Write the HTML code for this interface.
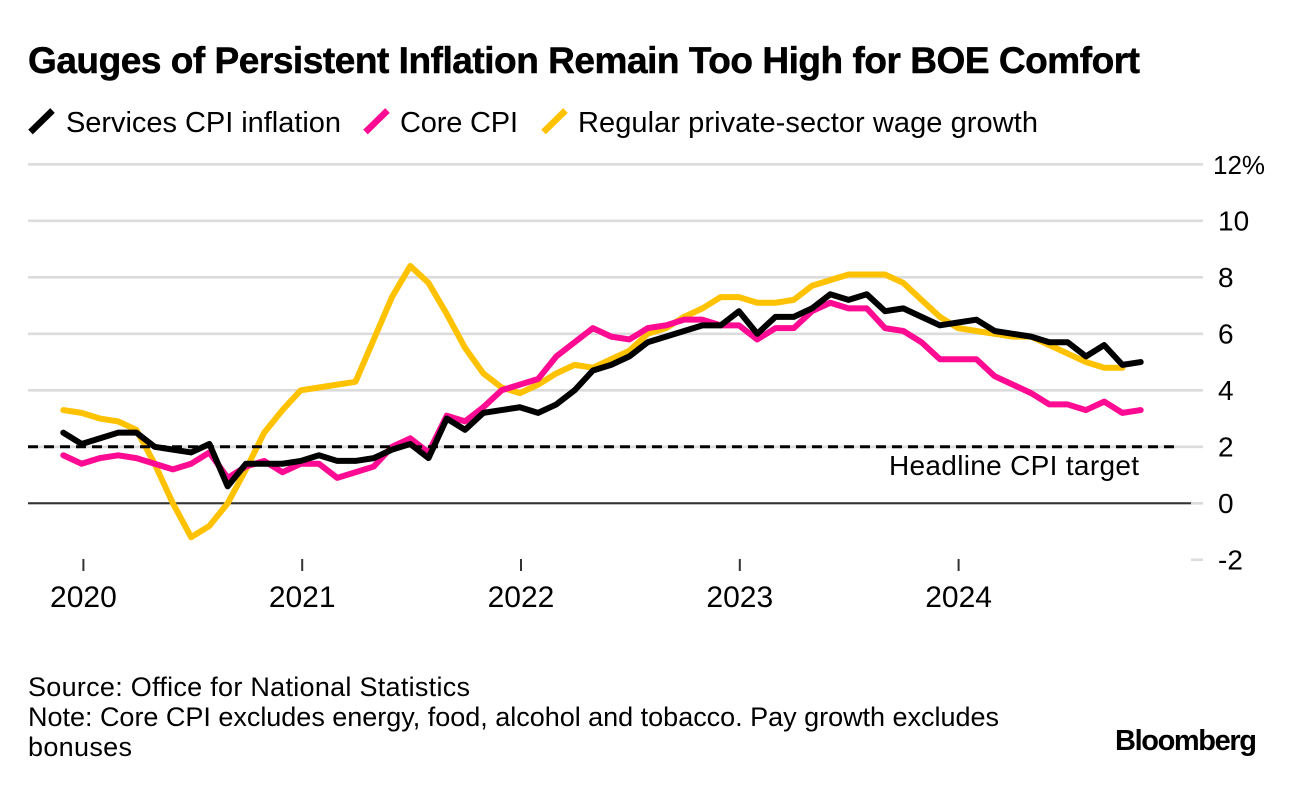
<!DOCTYPE html>
<html lang="en">
<head>
<meta charset="utf-8">
<title>Gauges of Persistent Inflation Remain Too High for BOE Comfort</title>
<style>
html,body{margin:0;padding:0;background:#fff;width:1296px;height:786px;overflow:hidden}
svg{display:block}
text{font-family:"Liberation Sans",sans-serif;fill:#000}
</style>
</head>
<body>
<svg id="chart" xmlns="http://www.w3.org/2000/svg" width="1296" height="786" viewBox="0 0 1296 786">
  <rect x="0" y="0" width="1296" height="786" fill="#fff"/>
  <text x="28" y="73" font-size="37" font-weight="700" stroke="#000" stroke-width="0.5" textLength="1112">Gauges of Persistent Inflation Remain Too High for BOE Comfort</text>

  <g>
    <g>
      <line x1="30.5" y1="132" x2="52.5" y2="110.5" stroke="#000" stroke-width="6.5"/>
      <text x="66" y="132" font-size="29" textLength="275">Services CPI inflation</text>
    </g>
    <g>
      <line x1="365.5" y1="132" x2="387.5" y2="110.5" stroke="#ff0a92" stroke-width="6.5"/>
      <text x="400" y="132" font-size="29" textLength="118">Core CPI</text>
    </g>
    <g>
      <line x1="543.5" y1="132" x2="565.5" y2="110.5" stroke="#ffc200" stroke-width="6.5"/>
      <text x="578" y="132" font-size="29" textLength="460">Regular private-sector wage growth</text>
    </g>
  </g>

  <g id="y-grid"></g>
  <g id="y-labels"></g>
  <g id="x-axis"></g>
  <g id="series"></g>

  <text x="889" y="475" font-size="28" textLength="250">Headline CPI target</text>

  <g>
    <text x="28" y="696" font-size="27" textLength="442">Source: Office for National Statistics</text>
    <text x="28" y="726" font-size="27" textLength="971">Note: Core CPI excludes energy, food, alcohol and tobacco. Pay growth excludes</text>
    <text x="28" y="756" font-size="27" textLength="104">bonuses</text>
  </g>
  <text x="1115" y="750" font-size="29" font-weight="700" textLength="142">Bloomberg</text>
</svg>
<script>
const months = ["Nov19","Dec19","Jan20","Feb20","Mar20","Apr20","May20","Jun20","Jul20","Aug20","Sep20","Oct20","Nov20","Dec20","Jan21","Feb21","Mar21","Apr21","May21","Jun21","Jul21","Aug21","Sep21","Oct21","Nov21","Dec21","Jan22","Feb22","Mar22","Apr22","May22","Jun22","Jul22","Aug22","Sep22","Oct22","Nov22","Dec22","Jan23","Feb23","Mar23","Apr23","May23","Jun23","Jul23","Aug23","Sep23","Oct23","Nov23","Dec23","Jan24","Feb24","Mar24","Apr24","May24","Jun24","Jul24","Aug24","Sep24","Oct24"];
const servicesCpi = [2.5,2.1,2.3,2.5,2.5,2.0,1.9,1.8,2.1,0.6,1.4,1.4,1.4,1.5,1.7,1.5,1.5,1.6,1.9,2.1,1.6,3.0,2.6,3.2,3.3,3.4,3.2,3.5,4.0,4.7,4.9,5.2,5.7,5.9,6.1,6.3,6.3,6.8,6.0,6.6,6.6,6.9,7.4,7.2,7.4,6.8,6.9,6.6,6.3,6.4,6.5,6.1,6.0,5.9,5.7,5.7,5.2,5.6,4.9,5.0];
const coreCpi = [1.7,1.4,1.6,1.7,1.6,1.4,1.2,1.4,1.8,0.9,1.3,1.5,1.1,1.4,1.4,0.9,1.1,1.3,2.0,2.3,1.8,3.1,2.9,3.4,4.0,4.2,4.4,5.2,5.7,6.2,5.9,5.8,6.2,6.3,6.5,6.5,6.3,6.3,5.8,6.2,6.2,6.8,7.1,6.9,6.9,6.2,6.1,5.7,5.1,5.1,5.1,4.5,4.2,3.9,3.5,3.5,3.3,3.6,3.2,3.3];
const wageGrowth = [3.3,3.2,3.0,2.9,2.6,1.4,0.0,-1.2,-0.8,0.0,1.2,2.5,3.3,4.0,4.1,4.2,4.3,5.8,7.3,8.4,7.8,6.7,5.5,4.6,4.1,3.9,4.2,4.6,4.9,4.8,5.1,5.4,6.0,6.2,6.6,6.9,7.3,7.3,7.1,7.1,7.2,7.7,7.9,8.1,8.1,8.1,7.8,7.2,6.6,6.2,6.1,6.0,5.9,5.9,5.6,5.3,5.0,4.8,4.8];
const yTicks = [12,10,8,6,4,2,0,-2];
const yTickLabels = ["12%","10","8","6","4","2","0","-2"];
const yearTicks = [2020,2021,2022,2023,2024];
const targetRate = [2];

const NS = "http://www.w3.org/2000/svg";
const xScale = function (i) { return 63.3 + i * (1140.7 - 63.3) / (months.length - 1); };
const yScale = function (v) { return 503.3 - v * 28.25; };
const yearScale = function (year) { return 83.4 + (year - 2020) * 218.8; };

function make(tag, parent) {
  const el = document.createElementNS(NS, tag);
  parent.appendChild(el);
  return el;
}

const grid = document.getElementById("y-grid");
const yLabels = document.getElementById("y-labels");
yTicks.forEach(function (v, i) {
  const y = yScale(v);
  const isPercent = yTickLabels[i].indexOf("%") > -1;
  const line = make("line", grid);
  
  
  line.setAttribute("x1", v === -2 ? 1191 : 28);
  line.setAttribute("x2", 1203);
  line.setAttribute("y1", y);
  line.setAttribute("y2", y);
  line.setAttribute("stroke", "#dcdcdc");
  line.setAttribute("stroke-width", 2.6);

  const label = make("text", yLabels);
  
  
  label.setAttribute("x", isPercent ? 1213 : 1218);
  label.setAttribute("y", y + 9.5);
  label.setAttribute("font-size", isPercent ? 26 : 28);
  label.textContent = yTickLabels[i];
});

const zero = make("line", grid);


zero.setAttribute("x1", 28);
zero.setAttribute("x2", 1191);
zero.setAttribute("y1", yScale(0));
zero.setAttribute("y2", yScale(0));
zero.setAttribute("stroke", "#333");
zero.setAttribute("stroke-width", 2);

const xAxis = document.getElementById("x-axis");
yearTicks.forEach(function (year) {
  const x = yearScale(year);
  const tick = make("line", xAxis);
  
  
  tick.setAttribute("x1", x);
  tick.setAttribute("x2", x);
  tick.setAttribute("y1", 559);
  tick.setAttribute("y2", 571);
  tick.setAttribute("stroke", "#333");
  tick.setAttribute("stroke-width", 2);

  const label = make("text", xAxis);
  
  
  label.setAttribute("x", x);
  label.setAttribute("y", 607);
  label.setAttribute("font-size", 30);
  label.setAttribute("text-anchor", "middle");
  label.textContent = String(year);
});

const seriesGroup = document.getElementById("series");
function drawSeries(values, color, name) {
  const line = make("polyline", seriesGroup);
  
  
  line.setAttribute("points", values.map(function (v, i) {
    return xScale(i).toFixed(2) + "," + yScale(v).toFixed(2);
  }).join(" "));
  line.setAttribute("fill", "none");
  line.setAttribute("stroke", color);
  line.setAttribute("stroke-width", 6);
  line.setAttribute("stroke-linejoin", "round");
  line.setAttribute("stroke-linecap", "round");
}
drawSeries(wageGrowth, "#ffc200", "wage-growth-line");
drawSeries(coreCpi, "#ff0a92", "core-cpi-line");

const target = make("line", seriesGroup);


target.setAttribute("x1", 28);
target.setAttribute("x2", 1176);
target.setAttribute("y1", yScale(targetRate[0]));
target.setAttribute("y2", yScale(targetRate[0]));
target.setAttribute("stroke", "#000");
target.setAttribute("stroke-width", 3);
target.setAttribute("stroke-dasharray", "10 6");

drawSeries(servicesCpi, "#000", "services-cpi-line");
</script>
</body>
</html>
